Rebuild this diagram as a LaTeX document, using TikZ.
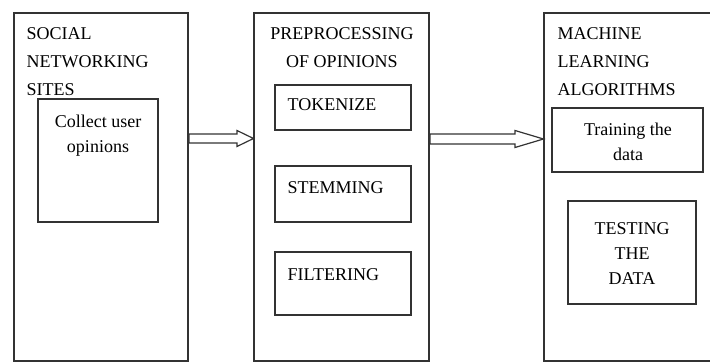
\documentclass[tikz,border=0pt]{standalone}
\usepackage{fontspec}
\setmainfont{Liberation Serif}
\begin{document}
\begin{tikzpicture}[x=1pt,y=-1pt,
  line width=1.4pt,
  outer/.style={draw=black!80, line width=1.4pt},
  inner/.style={draw=black!80, line width=1.4pt},
  ttl/.style={inner sep=0pt, anchor=north west, align=left, font=\fontsize{18}{28}\selectfont},
  txt/.style={inner sep=0pt, anchor=north, align=center, font=\fontsize{18}{25}\selectfont},
  blockarrow/.style={draw=black!80, line width=1.2pt, fill=white, line join=miter}]
\useasboundingbox (0,0) rectangle (710,363);
\clip (0,0) rectangle (710,363);
% outer boxes
\draw[outer] (14,13) rectangle (188,361);
\coordinate (b1) at (14,13);
\draw[outer] (254,13) rectangle (429,361);
\draw[outer] (544,13) rectangle (715,361);
% box 1
\node[ttl] (t1) at (26,27) {SOCIAL\\NETWORKING\\SITES};
\draw[inner] (38,99) rectangle (158,222);
\node[txt] (c1) at (98,114) {Collect user\\opinions};
% box 2
\node[ttl, anchor=north, align=center] (t2) at (342,27) {PREPROCESSING\\OF OPINIONS};
\draw[inner] (275,85) rectangle (411,130);
\node[ttl] (tok) at (287,98) {TOKENIZE};
\draw[inner] (275,166) rectangle (411,222);
\node[ttl] (stem) at (287,181) {STEMMING};
\draw[inner] (275,252) rectangle (411,315);
\node[ttl] (filt) at (287,268) {FILTERING};
% box 3
\node[ttl] (t3) at (557,27) {MACHINE\\LEARNING\\ALGORITHMS};
\draw[inner] (552,108) rectangle (703,172);
\node[txt] (train) at (628,122) {Training the\\data};
\draw[inner] (568,201) rectangle (696,304);
\node[txt] (test) at (632,222) {TESTING\\THE\\DATA};
% block arrows
\draw[blockarrow] (189,134) -- (237,134) -- (237,130.5) -- (253.5,138.5) -- (237,146.5) -- (237,143) -- (189,143) -- cycle;
\draw[blockarrow] (430,134) -- (515,134) -- (515,130.5) -- (543.5,139) -- (515,147.5) -- (515,144) -- (430,144) -- cycle;
\end{tikzpicture}
\end{document}
